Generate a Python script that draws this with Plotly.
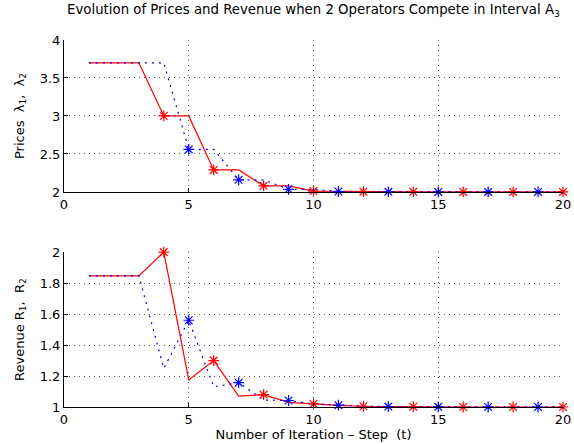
import plotly.graph_objects as go

iterations = list(range(1, 21))
price_op1 = [3.7, 3.7, 3.7, 3.0, 3.0, 2.29, 2.29, 2.08, 2.08, 2.012, 2.012, 2.004, 2.004, 2.001, 2.001, 2.0, 2.0, 2.0, 2.0, 2.0]
price_op2 = [3.7, 3.7, 3.7, 3.7, 2.56, 2.56, 2.16, 2.16, 2.035, 2.035, 2.006, 2.006, 2.002, 2.002, 2.0, 2.0, 2.0, 2.0, 2.0, 2.0]
revenue_op1 = [1.847, 1.847, 1.847, 2.0, 1.175, 1.30, 1.07, 1.08, 1.03, 1.02, 1.01, 1.005, 1.003, 1.002, 1.001, 1.0, 1.0, 1.0, 1.0, 1.0]
revenue_op2 = [1.847, 1.847, 1.847, 1.25, 1.56, 1.13, 1.157, 1.045, 1.042, 1.02, 1.012, 1.006, 1.003, 1.002, 1.001, 1.0, 1.0, 1.0, 1.0, 1.0]
marker_iters_op1 = [4, 6, 8, 10, 12, 14, 16, 18, 20]
marker_iters_op2 = [5, 7, 9, 11, 13, 15, 17, 19]

x_ticks = [0, 5, 10, 15, 20]
price_ticks = [2, 2.5, 3, 3.5, 4]
revenue_ticks = [1, 1.2, 1.4, 1.6, 1.8, 2]

RED = "rgb(255,0,0)"
BLUE = "rgb(0,0,255)"
FONT = "DejaVu Sans, Liberation Sans, Arial, sans-serif"
FS = 13


def pick(vals, its):
    return [vals[iterations.index(i)] for i in its]


fig = go.Figure()
for xa, ya, v1, v2 in [("x", "y", price_op1, price_op2), ("x2", "y2", revenue_op1, revenue_op2)]:
    fig.add_trace(go.Scatter(x=iterations, y=v1, mode="lines", xaxis=xa, yaxis=ya,
                             line=dict(color=RED, width=1.2), showlegend=False, cliponaxis=False))
    fig.add_trace(go.Scatter(x=iterations, y=v2, mode="lines", xaxis=xa, yaxis=ya,
                             line=dict(color=BLUE, width=1.2, dash="2px,5px"), showlegend=False, cliponaxis=False))
    fig.add_trace(go.Scatter(x=marker_iters_op1, y=pick(v1, marker_iters_op1), mode="markers", xaxis=xa, yaxis=ya,
                             marker=dict(symbol="asterisk-open", size=9, color=RED, line=dict(color=RED, width=1.2)),
                             showlegend=False, cliponaxis=False))
    fig.add_trace(go.Scatter(x=marker_iters_op2, y=pick(v2, marker_iters_op2), mode="markers", xaxis=xa, yaxis=ya,
                             marker=dict(symbol="asterisk-open", size=9, color=BLUE, line=dict(color=BLUE, width=1.2)),
                             showlegend=False, cliponaxis=False))

axis_common = dict(showline=True, linecolor="black", linewidth=1, ticks="inside", ticklen=4,
                   tickcolor="black", showgrid=True, gridcolor="rgba(0,0,0,0.65)", griddash="1px,4px",
                   gridwidth=1, zeroline=False, automargin=False,
                   tickfont=dict(family=FONT, size=FS, color="black"))

fig.update_layout(
    width=574, height=444,
    margin=dict(l=64, r=11, t=40, b=37),
    plot_bgcolor="white", paper_bgcolor="white",
    font=dict(family=FONT, size=FS, color="black"),
    title=dict(text="Evolution of Prices and Revenue when 2 Operators Compete in Interval A<sub>3</sub>",
               xref="paper", x=0.5, xanchor="center", y=0.978, yanchor="middle",
               font=dict(family=FONT, size=13.3, color="black")),
    xaxis=dict(axis_common, domain=[0, 1], range=[0, 20], tickvals=x_ticks, anchor="y"),
    yaxis=dict(axis_common, domain=[0.586, 1], range=[2, 4], tickvals=price_ticks,
               ticktext=["2", "2.5", "3", "3.5", "4"], anchor="x",
               title=dict(text="Prices  λ<sub>1</sub>,  λ<sub>2</sub>", standoff=12,
                          font=dict(family=FONT, size=FS))),
    xaxis2=dict(axis_common, domain=[0, 1], range=[0, 20], tickvals=x_ticks, anchor="y2",
                title=dict(text="Number of Iteration – Step  (t)", standoff=2,
                           font=dict(family=FONT, size=FS))),
    yaxis2=dict(axis_common, domain=[0, 0.422], range=[1, 2], tickvals=revenue_ticks,
                ticktext=["1", "1.2", "1.4", "1.6", "1.8", "2"], anchor="x2",
                title=dict(text="Revenue R<sub>1</sub>,  R<sub>2</sub>", standoff=12,
                           font=dict(family=FONT, size=FS))),
)

fig.write_html("out.html", config={"displayModeBar": False})
with open("out.html", encoding="utf-8") as f:
    html = f.read()
html = html.replace("<head>", "<head><style>html,body{margin:0;padding:0;overflow:hidden;}</style>", 1)
with open("out.html", "w", encoding="utf-8") as f:
    f.write(html)
